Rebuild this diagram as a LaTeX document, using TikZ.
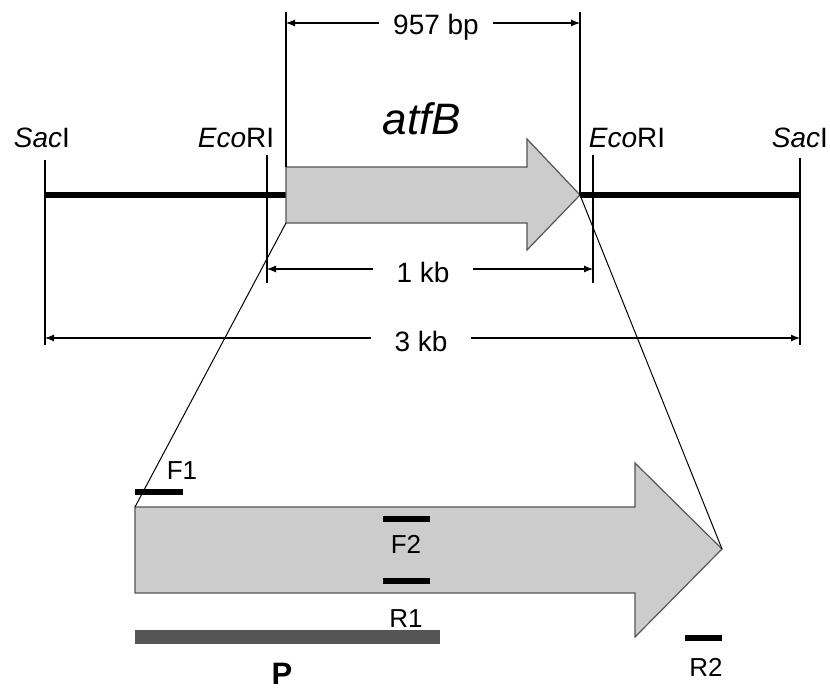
\documentclass[tikz,border=0pt]{standalone}
\usepackage{fontspec}
\setmainfont{Liberation Sans}
\usetikzlibrary{arrows.meta}
\definecolor{genefill}{HTML}{CCCCCC}
\definecolor{geneedge}{HTML}{555555}
\definecolor{probe}{HTML}{555555}
\begin{document}
\begin{tikzpicture}[x=1pt,y=-1pt,
  thin line/.style={line width=1.1pt,black},
  backbone/.style={line width=6pt,black},
  primer/.style={line width=6pt,black},
  dim/.style={line width=1.1pt,{Latex[length=9pt,width=7pt]}-{Latex[length=9pt,width=7pt]}},
  gene/.style={fill=genefill,draw=geneedge,line width=1.2pt,line join=miter},
  lbl/.style={font=\fontsize{28}{30}\selectfont,inner sep=0pt,anchor=base},
  plbl/.style={font=\fontsize{26}{28}\selectfont,inner sep=0pt,anchor=base},
  dimlbl/.style={font=\fontsize{28}{30}\selectfont,fill=white,inner ysep=2pt}]
\useasboundingbox (0,0) rectangle (830,690);

% --- restriction map -------------------------------------------------
\coordinate (sacL) at (45,195);
\coordinate (sacR) at (800,195);
\coordinate (geneL) at (286,195);
\coordinate (geneTip) at (580,195);

% backbone on both sides of the gene
\draw[backbone] (sacL) -- (geneL);
\draw[backbone] (geneTip) -- (sacR);

% site ticks
\coordinate (sacLtop) at (45,160);   \coordinate (sacLbot) at (45,345);
\coordinate (sacRtop) at (800,158);  \coordinate (sacRbot) at (800,345);
\coordinate (ecoLtop) at (267,155);  \coordinate (ecoLbot) at (267,283);
\coordinate (ecoRtop) at (593,155);  \coordinate (ecoRbot) at (593,283);
\draw[thin line] (sacLtop) -- (sacLbot);
\draw[thin line] (sacRtop) -- (sacRbot);
\draw[thin line] (ecoLtop) -- (ecoLbot);
\draw[thin line] (ecoRtop) -- (ecoRbot);

% small gene arrow
\draw[gene] (286,167) -- (527,167) -- (527,139) -- (geneTip) -- (527,250)
  -- (527,223) -- (286,223) -- cycle;
\coordinate (geneLB) at (286,223);

% site labels
\node[lbl] (sacLlbl) at (42,147) {\textit{Sac}I};
\node[lbl] (ecoLlbl) at (236,147) {\textit{Eco}RI};
\node[lbl] (ecoRlbl) at (627,147) {\textit{Eco}RI};
\node[lbl] (sacRlbl) at (800,147) {\textit{Sac}I};
\node[font=\fontsize{44}{46}\selectfont\itshape,inner sep=0pt,anchor=base] (genename) at (422,135) {atfB};

% gene length dimension
\coordinate (bpLtop) at (286,12);  \coordinate (bpLbot) at (286,167);
\coordinate (bpRtop) at (580,12);
\draw[thin line] (bpLtop) -- (bpLbot);
\draw[thin line] (bpRtop) -- (geneTip);
\coordinate (bpL) at (286,23); \coordinate (bpR) at (580,23);
\draw[dim] (bpL) -- (bpR);
\node[dimlbl,inner xsep=14pt] (bplbl) at (436,27) {957 bp};

% EcoRI fragment dimension
\coordinate (kbL) at (267,269); \coordinate (kbR) at (593,269);
\draw[dim] (kbL) -- (kbR);
\node[dimlbl,inner xsep=24pt] (kblbl) at (423,272) {1 kb};

% SacI fragment dimension
\coordinate (skbL) at (45,338); \coordinate (skbR) at (800,338);
\draw[dim] (skbL) -- (skbR);
\node[dimlbl,inner xsep=24pt] (skblbl) at (421,341) {3 kb};

% --- enlarged gene ---------------------------------------------------
\coordinate (bigLT) at (135,507);
\coordinate (bigTip) at (722,549);
\draw[gene] (bigLT) -- (635,507) -- (635,463) -- (bigTip) -- (635,637)
  -- (635,593) -- (135,593) -- cycle;

% zoom lines
\draw[line width=1pt] (geneLB) -- (bigLT);
\draw[line width=1pt] (geneTip) -- (bigTip);

% primers
\coordinate (f1a) at (135,492); \coordinate (f1b) at (183,492);
\coordinate (f2a) at (383,519); \coordinate (f2b) at (430,519);
\coordinate (r1a) at (383,581); \coordinate (r1b) at (430,581);
\coordinate (r2a) at (685,638); \coordinate (r2b) at (722,638);
\draw[primer] (f1a) -- (f1b);
\draw[primer] (f2a) -- (f2b);
\draw[primer] (r1a) -- (r1b);
\draw[primer] (r2a) -- (r2b);
\node[plbl] (f1lbl) at (182,479) {F1};
\node[plbl] (f2lbl) at (406,553) {F2};
\node[plbl] (r1lbl) at (406,627) {R1};
\node[plbl] (r2lbl) at (706,676) {R2};

% probe
\coordinate (pa) at (135,637); \coordinate (pb) at (440,637);
\draw[line width=14pt,probe] (pa) -- (pb);
\node[font=\fontsize{31}{33}\selectfont\bfseries,inner sep=0pt,anchor=base] (plbl) at (282,684) {P};
\end{tikzpicture}
\end{document}
